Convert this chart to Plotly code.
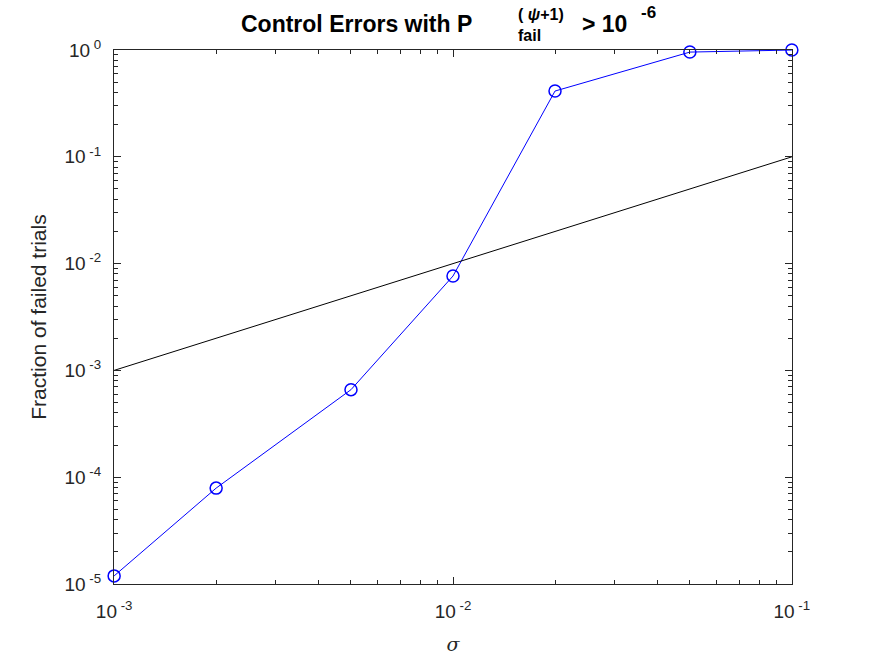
import plotly.graph_objects as go

sigma = [0.001, 0.002, 0.005, 0.01, 0.02, 0.05, 0.1]
frac_failed = [1.19e-5, 7.9e-5, 6.6e-4, 7.65e-3, 0.413, 0.957, 1.0]
ref_x = [0.001, 0.1]
ref_y = [0.001, 0.1]
x_tickvals = [1e-3, 1e-2, 1e-1]
x_ticktext = ["10<sup> -3</sup>", "10<sup> -2</sup>", "10<sup> -1</sup>"]
y_tickvals = [1e-5, 1e-4, 1e-3, 1e-2, 1e-1, 1]
y_ticktext = ["10<sup> -5</sup>", "10<sup> -4</sup>", "10<sup> -3</sup>", "10<sup> -2</sup>", "10<sup> -1</sup>", "10<sup> 0</sup>"]

W, H = 875, 657
L, R, T, B = 114, 83, 50, 73
pw, ph = W - L - R, H - T - B

fig = go.Figure()
fig.add_trace(go.Scatter(x=sigma, y=frac_failed, mode="lines+markers",
                         line=dict(color="#0000ff", width=1),
                         marker=dict(symbol="circle-open", size=12, color="#0000ff", line=dict(width=1.5)),
                         cliponaxis=False, showlegend=False))
fig.add_trace(go.Scatter(x=ref_x, y=ref_y, mode="lines",
                         line=dict(color="#000000", width=1), showlegend=False))

axis_common = dict(type="log", showgrid=False, zeroline=False, showline=True,
                   linecolor="#262626", linewidth=1, mirror="allticks", automargin=False,
                   ticks="inside", ticklen=7, tickcolor="#262626",
                   tickfont=dict(family="Liberation Sans, Arial", size=19, color="#262626"),
                   minor=dict(ticks="inside", ticklen=4, tickcolor="#262626", dtick="D1", showgrid=False))

fig.update_xaxes(**axis_common, range=[-3.0004, -0.9996], tickmode="array", tickvals=x_tickvals, ticktext=x_ticktext,
                 ticklabelstandoff=10,
                 title=dict(text="<i>σ</i>", font=dict(family="DejaVu Serif", size=19, color="#262626"), standoff=16))
fig.update_yaxes(**axis_common, range=[-5.0004, 0.0004], tickmode="array", tickvals=y_tickvals, ticktext=y_ticktext,
                 ticklabelstandoff=8,
                 title=dict(text="Fraction of failed trials", font=dict(family="Liberation Sans, Arial", size=21, color="#262626"), standoff=12))

def px(x):
    return (x - L) / pw

def py(y):
    return (H - B - y) / ph

tf = "Liberation Sans, Arial"
anns = [
    dict(text="<b>Control Errors with P</b>", x=px(239), y=py(24), size=23),
    dict(text="<b>( <i>ψ</i>+1)</b>", x=px(516), y=py(14), size=16),
    dict(text="<b>fail</b>", x=px(516), y=py(36), size=16),
    dict(text="<b>> 10</b>", x=px(580), y=py(24), size=23),
    dict(text="<b>-6</b>", x=px(639), y=py(12), size=17),
]
for a in anns:
    fig.add_annotation(text=a["text"], x=a["x"], y=a["y"], xref="paper", yref="paper",
                       xanchor="left", yanchor="middle", showarrow=False,
                       font=dict(family=tf, size=a["size"], color="#000000"))

fig.update_layout(width=W, height=H, margin=dict(l=L, r=R, t=T, b=B, autoexpand=False),
                  paper_bgcolor="white", plot_bgcolor="white")

fig.write_html("out.html")
